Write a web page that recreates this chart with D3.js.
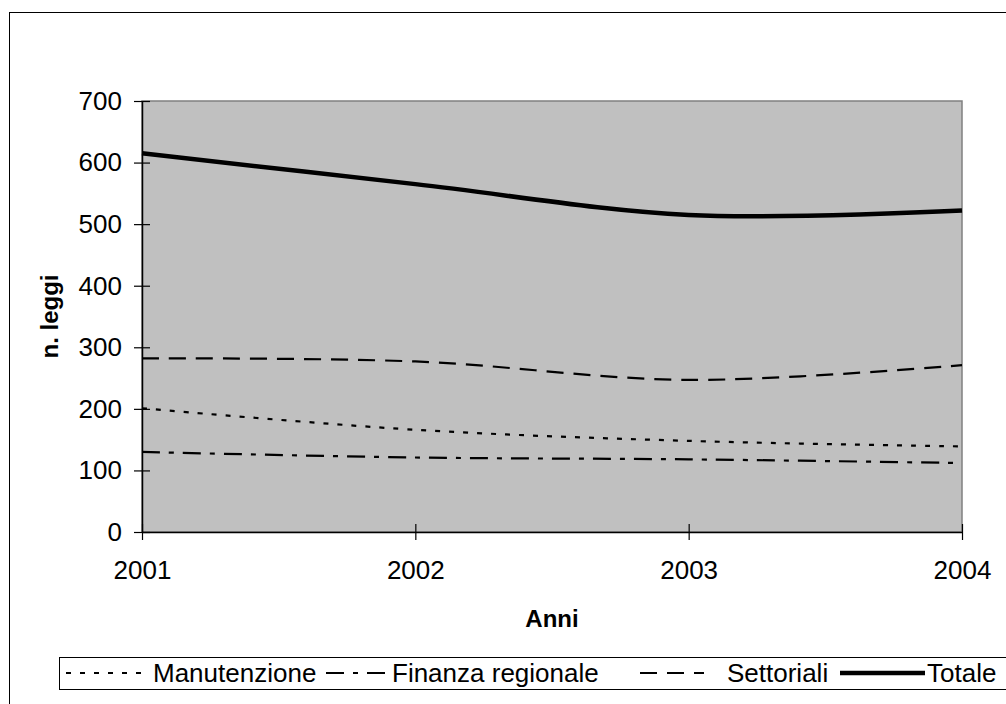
<!DOCTYPE html>
<html>
<head>
<meta charset="utf-8">
<script src="https://cdn.jsdelivr.net/npm/d3@7"></script>
<style>
  html, body { margin: 0; padding: 0; background: #fff; }
  svg { display: block; }
  text { font-family: "Liberation Sans", Arial, sans-serif; fill: #000; }
</style>
</head>
<body>
<svg id="chart" width="1006" height="704"></svg>
<script>
// Years on the x axis
const years = [2001, 2002, 2003, 2004];

// Number of laws per year, by type
const manutenzione = [201, 166, 148, 139];
const finanzaRegionale = [130, 121, 118, 112];
const settoriali = [282, 277, 247, 271];
const totale = [615, 565, 515, 522];

const yTicks = [0, 100, 200, 300, 400, 500, 600, 700];

const seriesNames = ["Manutenzione", "Finanza regionale", "Settoriali", "Totale"];
const seriesValues = [manutenzione, finanzaRegionale, settoriali, totale];
const seriesDash = ["5,9", "18,9,5,9", "17,10", null];
const seriesWidth = [2.2, 2.2, 2.2, 4.5];

const svg = d3.select("#chart");
const plot = { left: 142, right: 962, top: 101, bottom: 532 };

// Outer chart frame
svg.append("rect")
  .attr("x", 9.5).attr("y", 12.5)
  .attr("width", 1010).attr("height", 720)
  .attr("fill", "#fff").attr("stroke", "#000").attr("stroke-width", 1);

const x = d3.scaleLinear().domain([2001, 2004]).range([plot.left, plot.right]);
const y = d3.scaleLinear().domain([0, 700]).range([plot.bottom, plot.top]);

// Plot area background with grey border
svg.append("rect")
  .attr("x", plot.left).attr("y", plot.top)
  .attr("width", plot.right - plot.left).attr("height", plot.bottom - plot.top)
  .attr("fill", "#c0c0c0").attr("stroke", "#808080").attr("stroke-width", 1.5);

// Series lines (smoothed)
const line = d3.line()
  .x((d, i) => x(years[i]))
  .y(d => y(d))
  .curve(d3.curveCardinal.tension(0));

const g = svg.append("g");
seriesValues.forEach((vals, k) => {
  g.append("path")
    .datum(vals)
    .attr("d", line)
    .attr("fill", "none")
    .attr("stroke", "#000")
    .attr("stroke-width", seriesWidth[k])
    .attr("stroke-dasharray", seriesDash[k]);
});

// Y axis
const yAxis = d3.axisLeft(y).tickValues(yTicks).tickSizeInner(8).tickSizeOuter(0).tickPadding(12);
const ya = svg.append("g").attr("transform", `translate(${plot.left},0)`).call(yAxis);
ya.select(".domain").attr("stroke", "#000").attr("stroke-width", 1.5);
ya.selectAll(".tick line").attr("stroke", "#000").attr("stroke-width", 1.2).attr("x2", 8).attr("x1", -8);
ya.selectAll(".tick text").attr("font-size", 26).attr("font-family", "Liberation Sans, Arial, sans-serif").attr("x", -20);

// X axis
const xAxis = d3.axisBottom(x).tickValues(years).tickFormat(d3.format("d")).tickSizeOuter(0).tickPadding(0);
const xa = svg.append("g").attr("transform", `translate(0,${plot.bottom})`).call(xAxis);
xa.select(".domain").attr("stroke", "#000").attr("stroke-width", 1.5);
xa.selectAll(".tick line").attr("stroke", "#000").attr("stroke-width", 1.2).attr("y1", -8).attr("y2", 8);
xa.selectAll(".tick text").attr("font-size", 26).attr("font-family", "Liberation Sans, Arial, sans-serif")
  .attr("y", 47).attr("dy", null);

// Axis titles
svg.append("text")
  .attr("x", (plot.left + plot.right) / 2).attr("y", 627)
  .attr("text-anchor", "middle").attr("font-size", 24).attr("font-weight", "bold")
  .text("Anni");

svg.append("text")
  .attr("transform", `translate(58,${(plot.top + plot.bottom) / 2}) rotate(-90)`)
  .attr("text-anchor", "middle").attr("font-size", 24).attr("font-weight", "bold")
  .text("n. leggi");

// Legend
const legend = svg.append("g");
legend.append("rect")
  .attr("x", 59.5).attr("y", 657.5).attr("width", 1000).attr("height", 32)
  .attr("fill", "#fff").attr("stroke", "#000").attr("stroke-width", 1);

const legendSample = [[66, 150], [326, 388], [640, 704], [840, 925]];
const legendText = [153, 392, 727, 927];
seriesNames.forEach((name, k) => {
  legend.append("line")
    .attr("x1", legendSample[k][0]).attr("x2", legendSample[k][1])
    .attr("y1", 673).attr("y2", 673)
    .attr("stroke", "#000").attr("stroke-width", seriesWidth[k])
    .attr("stroke-dasharray", seriesDash[k]);
  legend.append("text")
    .attr("x", legendText[k]).attr("y", 682)
    .attr("font-size", 26)
    .text(name);
});
</script>
</body>
</html>
